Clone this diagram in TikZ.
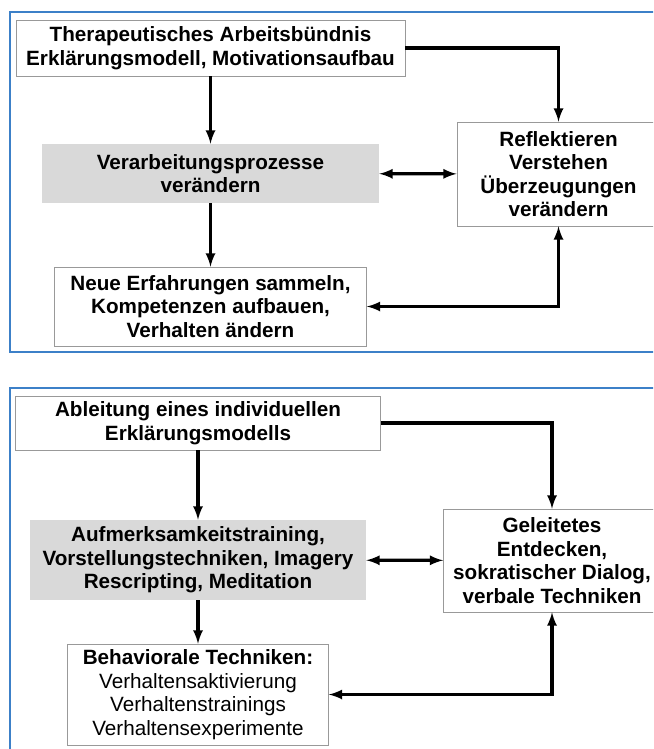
\documentclass[tikz,border=0pt]{standalone}
\usepackage{fontspec}
\setmainfont{Liberation Sans}
\usepackage{tikz}
\usetikzlibrary{arrows}
\usetikzlibrary{positioning}

\newcommand{\pxl}{0.75pt}
\definecolor{rahmenblau}{RGB}{60,128,200}
\definecolor{kastengrau}{RGB}{217,217,217}

\begin{document}
\begin{tikzpicture}[x=0.75pt, y=-0.75pt,
  kasten/.style={rectangle, draw=gray!80, line width=0.6pt, fill=white, inner sep=0pt, align=center,
    font=\fontsize{15.5}{17.6}\selectfont\bfseries},
  graukasten/.style={kasten, draw=none, fill=kastengrau},
  pfeil/.style={-latex, line width=2.4pt, draw=black},
  rahmen/.style={draw=rahmenblau, line width=1.6pt}]
 \useasboundingbox (0, 0) rectangle (653, 749);
 \clip (0, 0) rectangle (653, 749);

 % oberes Schema
 \draw [rahmen] (660, 12) -- (10, 12) -- (10, 352) -- (660, 352);
 \node [kasten, minimum width=389*\pxl, minimum height=56*\pxl] (T) at (210.5, 48)
   {Therapeutisches Arbeitsbündnis\\Erklärungsmodell, Motivationsaufbau};
 \node [graukasten, minimum width=337*\pxl, minimum height=59*\pxl] (V) at (210.5, 173.5)
   {Verarbeitungsprozesse\\verändern};
 \node [kasten, minimum width=203*\pxl, minimum height=104*\pxl] (R) at (558.5, 174)
   {Reflektieren\\Verstehen\\Überzeugungen\\verändern};
 \node [kasten, minimum width=312*\pxl, minimum height=79*\pxl] (N) at (210.5, 306.5)
   {Neue Erfahrungen sammeln,\\Kompetenzen aufbauen,\\Verhalten ändern};
 \draw [pfeil] (T) to (V);
 \draw [pfeil] (T.east) -| (R.north);
 \draw [pfeil, latex-latex] (V) to (R);
 \draw [pfeil] (V) to (N);
 \draw [pfeil, latex-latex] (N.east) -| (R.south);

 % unteres Schema
 \draw [rahmen] (660, 388) -- (10, 388) -- (10, 760);
 \node [kasten, minimum width=365*\pxl, minimum height=54*\pxl] (A) at (198, 423)
   {Ableitung eines individuellen\\Erklärungsmodells};
 \node [graukasten, minimum width=336*\pxl, minimum height=80*\pxl] (M) at (198, 560)
   {Aufmerksamkeitstraining,\\Vorstellungstechniken, Imagery\\Rescripting, Meditation};
 \node [kasten, minimum width=217*\pxl, minimum height=103*\pxl] (G) at (552, 560.5)
   {Geleitetes\\Entdecken,\\sokratischer Dialog,\\verbale Techniken};
 \node [kasten, minimum width=261*\pxl, minimum height=101*\pxl] (B) at (198, 694.5)
   {Behaviorale Techniken:\\\mdseries Verhaltensaktivierung\\\mdseries Verhaltenstrainings\\\mdseries Verhaltensexperimente};
 \draw [pfeil] (A) to (M);
 \draw [pfeil] (A.east) -| (G.north);
 \draw [pfeil, latex-latex] (M) to (G);
 \draw [pfeil] (M) to (B);
 \draw [pfeil, latex-latex] (B.east) -| (G.south);
\end{tikzpicture}
\end{document}
